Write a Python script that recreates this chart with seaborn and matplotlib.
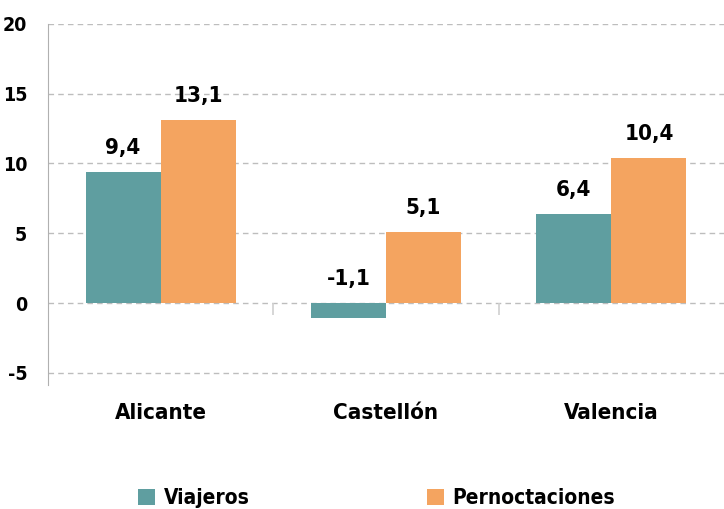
import pandas as pd
import numpy as np
import seaborn as sns
import matplotlib.pyplot as plt

provincias = ['Alicante', 'Castellón', 'Valencia']
viajeros = [9.4, -1.1, 6.4]
pernoctaciones = [13.1, 5.1, 10.4]
series = ['Viajeros', 'Pernoctaciones']
colores = ['#5F9EA0', '#F4A460']

df = pd.DataFrame({
    'provincia': provincias * 2,
    'serie': [series[0]] * 3 + [series[1]] * 3,
    'valor': viajeros + pernoctaciones,
})

sns.set_style('white')
plt.rcParams['font.family'] = ['DejaVu Sans Condensed', 'Liberation Sans Narrow', 'DejaVu Sans']
plt.rcParams['font.stretch'] = 'condensed'
plt.rcParams['font.weight'] = 'bold'
plt.rcParams['text.color'] = 'black'
plt.rcParams['xtick.labelcolor'] = 'black'
plt.rcParams['ytick.labelcolor'] = 'black'

fig = plt.figure(figsize=(7.24, 5.09), dpi=100)
ax = fig.add_axes([0.0663, 0.2436, 0.9337, 0.7094])

sns.barplot(data=df, x='provincia', y='valor', hue='serie', palette=colores,
            width=0.667, gap=0, saturation=1, linewidth=0, ax=ax, legend=True)

ax.set_xlim(-0.5, 2.5)
ax.set_ylim(-5.87, 20)
ax.set_yticks([-5, 0, 5, 10, 15, 20])
ax.set_yticklabels(['-5', '0', '5', '10', '15', '20'])
ax.yaxis.grid(True, linestyle=(0, (4, 3)), color='#BDBDBD', linewidth=1)
ax.set_axisbelow(True)
for s in ['top', 'right', 'bottom']:
    ax.spines[s].set_visible(False)
ax.spines['left'].set_color('#B0B0B0')
ax.tick_params(axis='y', length=11, color='#B0B0B0', width=1.2, labelsize=14, pad=4)
ax.tick_params(axis='x', length=0, labelsize=16, pad=13)
ax.set_xticks([0.5, 1.5], minor=True)
ax.tick_params(axis='x', which='minor', direction='in', length=11, color='#D0D0D0', width=1.2)
ax.vlines([0.5, 1.5], 0, -0.85, color='#D0D0D0', linewidth=1.2)
ax.set_xlabel('')
ax.set_ylabel('')

# etiquetas de valores (coma decimal, siempre por encima de cero)
xs = np.arange(len(provincias))
off = 0.667 / 4
for i, vals in enumerate([viajeros, pernoctaciones]):
    for x, v in zip(xs, vals):
        ax.annotate(f'{v:.1f}'.replace('.', ','), (x + (2 * i - 1) * off, max(v, 0)),
                    xytext=(0, 10), textcoords='offset points',
                    ha='center', va='bottom', fontsize=16, fontweight='bold')

handles, labels = ax.get_legend_handles_labels()
ax.get_legend().remove()
fig.legend(handles, labels, loc='lower center', bbox_to_anchor=(0.52, -0.035), ncol=2,
           frameon=False, fontsize=15, handlelength=0.85, handleheight=0.85,
           handletextpad=0.4, columnspacing=8.5)

fig.savefig('out.png', dpi=100)
